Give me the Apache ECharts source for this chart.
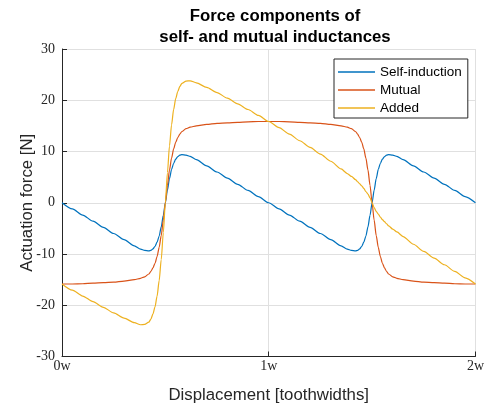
<!DOCTYPE html>
<html>
<head>
<meta charset="utf-8">
<script src="https://cdn.jsdelivr.net/npm/echarts@6/dist/echarts.min.js"></script>
<style>
html,body{margin:0;padding:0;background:#fff;}
#chart{width:487px;height:410px;}
</style>
</head>
<body>
<div id="chart"></div>
<script>
// Displacement in toothwidths
const X = [
  0,0.05,0.1,0.15,0.2,0.25,0.3,0.35,0.38,0.4,0.42,0.43,0.44,0.45,0.46,0.47,0.48,0.49,0.5,
  0.51,0.52,0.53,0.54,0.55,0.56,0.57,0.58,0.6,0.62,0.65,0.7,0.75,0.8,0.85,0.9,0.95,1.0,
  1.05,1.1,1.15,1.2,1.25,1.3,1.35,1.38,1.4,1.42,1.43,1.44,1.45,1.46,1.47,1.48,1.49,1.5,
  1.51,1.52,1.53,1.54,1.55,1.56,1.57,1.58,1.6,1.62,1.65,1.7,1.75,1.8,1.85,1.9,1.95,2.0
];
const selfInduction = [
  0,-1.2,-2.4,-3.6,-4.8,-6.0,-7.2,-8.4,-9.05,-9.3,-9.4,-9.3,-9.0,-8.5,-7.7,-6.5,-4.7,-2.45,0,
  2.45,4.7,6.5,7.7,8.5,9.0,9.3,9.4,9.3,9.05,8.4,7.2,6.0,4.8,3.6,2.4,1.2,0,
  -1.2,-2.4,-3.6,-4.8,-6.0,-7.2,-8.4,-9.05,-9.3,-9.4,-9.3,-9.0,-8.5,-7.7,-6.5,-4.7,-2.45,0,
  2.45,4.7,6.5,7.7,8.5,9.0,9.3,9.4,9.3,9.05,8.4,7.2,6.0,4.8,3.6,2.4,1.2,0
];
const mutual = [
  -15.85,-15.85,-15.8,-15.7,-15.6,-15.5,-15.3,-15.0,-14.75,-14.45,-13.9,-13.4,-12.7,-11.8,-10.5,-8.7,-6.4,-3.4,0,
  3.4,6.4,8.7,10.5,11.8,12.7,13.4,13.9,14.45,14.75,15.0,15.3,15.5,15.6,15.7,15.8,15.85,15.85,
  15.85,15.8,15.7,15.6,15.5,15.3,15.0,14.75,14.45,13.9,13.4,12.7,11.8,10.5,8.7,6.4,3.4,0,
  -3.4,-6.4,-8.7,-10.5,-11.8,-12.7,-13.4,-13.9,-14.45,-14.75,-15.0,-15.3,-15.5,-15.6,-15.7,-15.8,-15.85,-15.85
];
const added = [
  -15.85,-17.05,-18.2,-19.3,-20.4,-21.5,-22.5,-23.4,-23.8,-23.75,-23.3,-22.7,-21.7,-20.3,-18.2,-15.2,-11.1,-5.85,0,
  5.85,11.1,15.2,18.2,20.3,21.7,22.7,23.3,23.75,23.8,23.4,22.5,21.5,20.4,19.3,18.2,17.05,15.85,
  14.65,13.4,12.1,10.8,9.5,8.1,6.6,5.7,5.15,4.5,4.1,3.7,3.3,2.8,2.2,1.7,0.95,0,
  -0.95,-1.7,-2.2,-2.8,-3.3,-3.7,-4.1,-4.5,-5.15,-5.7,-6.6,-8.1,-9.5,-10.8,-12.1,-13.4,-14.65,-15.85
];
const xTickLabels = ['0w','1w','2w'];
const seriesNames = ['Self-induction','Mutual','Added'];
const seriesColors = ['#0072BD','#D95319','#EDB120'];
const seriesValues = [selfInduction, mutual, added];

const chart = echarts.init(document.getElementById('chart'), null, {renderer:'canvas'});
const axisColor = '#262626';
const gridColor = '#e0e0e0';
const sans = 'Liberation Sans, Arial, sans-serif';
const serif = 'Liberation Serif, Times New Roman, serif';
chart.setOption({
  animation: false,
  backgroundColor: '#fff',
  title: {
    text: 'Force components of\nself- and mutual inductances',
    left: 270, top: 1, textAlign: 'center',
    textStyle: {fontFamily: sans, fontSize: 16.8, fontWeight: 'bold', color: '#000', lineHeight: 21}
  },
  legend: {
    orient: 'vertical', left: 334, top: 59,
    padding: [4, 6, 1, 4],
    borderColor: axisColor, borderWidth: 1, backgroundColor: '#fff',
    icon: 'rect', itemWidth: 37, itemHeight: 1.3, itemGap: 0,
    textStyle: {fontFamily: sans, fontSize: 13.5, color: '#000', lineHeight: 18},
    data: seriesNames
  },
  grid: {left: 62, right: 10, top: 49, bottom: 53.5},
  xAxis: {
    type: 'value', min: 0, max: 2, interval: 1,
    name: 'Displacement [toothwidths]', nameLocation: 'middle', nameGap: 30,
    nameMoveOverlap: false,
    nameTextStyle: {fontFamily: sans, fontSize: 16.8, color: axisColor},
    axisLine: {onZero: false, lineStyle: {color: axisColor, width: 1}},
    axisTick: {inside: true, length: 5, lineStyle: {color: axisColor}},
    axisLabel: {formatter: v => xTickLabels[Math.round(v)], fontFamily: serif, fontSize: 14, color: axisColor, margin: 3, showMinLabel: true, showMaxLabel: true},
    splitLine: {show: true, lineStyle: {color: gridColor, width: 1}}
  },
  yAxis: {
    type: 'value', min: -30, max: 30, interval: 10,
    name: 'Actuation force [N]', nameLocation: 'middle', nameGap: 26,
    nameMoveOverlap: false,
    nameTextStyle: {fontFamily: sans, fontSize: 16.8, color: axisColor},
    axisLine: {show: true, onZero: false, lineStyle: {color: axisColor, width: 1}},
    axisTick: {show: true, inside: true, length: 5, lineStyle: {color: axisColor}},
    axisLabel: {fontFamily: serif, fontSize: 14, color: axisColor, margin: 7},
    splitLine: {show: true, lineStyle: {color: gridColor, width: 1}}
  },
  series: seriesNames.map((name, k) => ({
    name: name,
    type: 'line',
    data: X.map((x, i) => [x, seriesValues[k][i]]),
    symbol: 'none',
    smooth: 0.25,
    smoothMonotone: 'x',
    color: seriesColors[k],
    lineStyle: {width: 1.2, color: seriesColors[k]}
  }))
});
</script>
</body>
</html>
